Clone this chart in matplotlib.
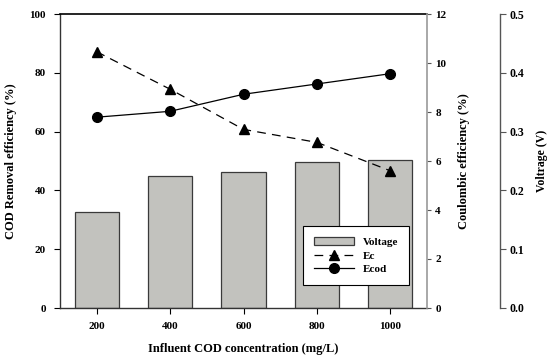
import matplotlib
matplotlib.use("Agg")
import matplotlib.pyplot as plt
import numpy as np

plt.rcParams['font.family'] = ['Liberation Serif', 'DejaVu Serif']
plt.rcParams['font.weight'] = 'bold'

categories = ['200', '400', '600', '800', '1000']
voltage = [0.163, 0.224, 0.231, 0.249, 0.252]
ec = [10.46, 8.93, 7.29, 6.76, 5.6]
ecod = [64.9, 66.9, 72.7, 76.2, 79.7]

W, H = 550, 357
fig = plt.figure(figsize=(5.5, 3.57), dpi=100)
L, R, T, B = 60, 427, 14, 308
rect = [L / W, (H - B) / H, (R - L) / W, (B - T) / H]

x = np.arange(len(categories))

# voltage axis (bars) - lowest
axv = fig.add_axes(rect)
axv.set_zorder(0)
axv.bar(x, voltage, width=0.6, color='#c2c2be', edgecolor='#3a3a3a', linewidth=0.9, label='Voltage')
axv.set_ylim(0, 0.5)
axv.set_xlim(-0.5, 4.5)
axv.yaxis.tick_right()
axv.yaxis.set_label_position('right')
for s in ['left', 'top', 'bottom']:
    axv.spines[s].set_visible(False)
axv.spines['right'].set_position(('axes', (500 - L) / (R - L)))
axv.spines['right'].set_color('#555555')
axv.spines['right'].set_linewidth(1.0)
axv.set_yticks([0, 0.1, 0.2, 0.3, 0.4, 0.5])
axv.set_yticklabels(['0.0', '0.1', '0.2', '0.3', '0.4', '0.5'])
axv.tick_params(axis='y', direction='out', length=4, width=0.8, color='#555555', labelsize=8.5, pad=3)
axv.tick_params(axis='x', bottom=False, labelbottom=False)
axv.set_ylabel('Voltrage (V)', fontsize=8.5, fontweight='bold', labelpad=8)

# main axis (Ecod)
ax = fig.add_axes(rect, sharex=axv)
ax.set_zorder(1)
ax.patch.set_visible(False)
ax.plot(x, ecod, '-', color='black', linewidth=0.9, marker='o', markersize=7, label='Ecod')
ax.set_ylim(0, 100)
ax.set_yticks([0, 20, 40, 60, 80, 100])
ax.set_xticks(x)
ax.set_xticklabels(categories)
ax.spines['right'].set_visible(False)
ax.spines['left'].set_linewidth(1.0)
ax.spines['bottom'].set_linewidth(1.0)
ax.spines['top'].set_linewidth(1.2)
ax.spines['left'].set_color('#333333')
ax.spines['bottom'].set_color('#333333')
ax.tick_params(axis='both', direction='out', length=4, width=0.8, labelsize=8, pad=6)
ax.set_xlabel('Influent COD concentration (mg/L)', fontsize=9, fontweight='bold', labelpad=9)
ax.set_ylabel('COD Removal efficiency (%)', fontsize=9, fontweight='bold', labelpad=9)

# Ec axis
ax2 = fig.add_axes(rect, sharex=axv)
ax2.set_zorder(2)
ax2.patch.set_visible(False)
ax2.plot(x, ec, color='black', linewidth=0.9, linestyle=(0, (7, 5)), marker='^', markersize=7, label='Ec')
ax2.set_ylim(0, 12)
ax2.yaxis.tick_right()
ax2.yaxis.set_label_position('right')
for s in ['left', 'top', 'bottom']:
    ax2.spines[s].set_visible(False)
ax2.spines['right'].set_color('#9a9a9a')
ax2.spines['right'].set_linewidth(1.2)
ax2.set_yticks([0, 2, 4, 6, 8, 10, 12])
ax2.tick_params(axis='y', direction='out', length=3, width=0.8, color='#555555', labelsize=8, pad=3)
ax2.tick_params(axis='x', bottom=False, labelbottom=False)
ax2.set_ylabel('Coulombic efficiency (%)', fontsize=9, fontweight='bold', labelpad=8)

handles = [axv.patches[0], ax2.lines[0], ax.lines[0]]
labels = ['Voltage', 'Ec', 'Ecod']
leg = fig.legend(handles, labels, loc='upper left', bbox_to_anchor=(303 / W, 1 - 226 / H),
                 frameon=True, fancybox=False, edgecolor='black', framealpha=1,
                 fontsize=8, handlelength=3.6, handletextpad=0.8, labelspacing=0.35,
                 borderpad=1.0, borderaxespad=0)
leg.get_frame().set_linewidth(0.8)
leg.set_zorder(5)

fig.savefig('out.png', dpi=100)
